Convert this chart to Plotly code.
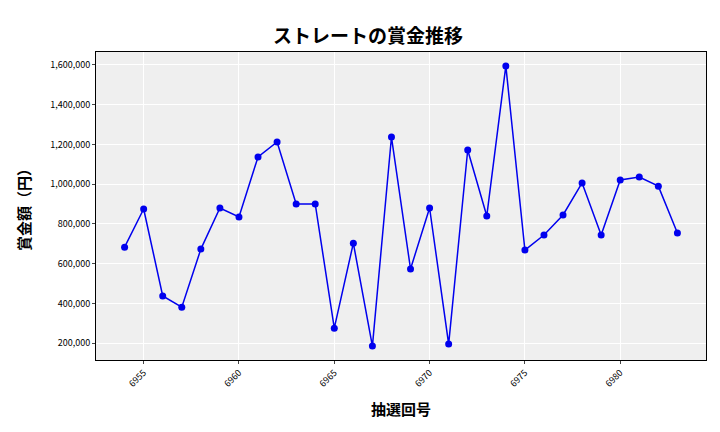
import plotly.graph_objects as go

draws = list(range(6954, 6984))
prizes = [683000, 875000, 437000, 381000, 673000, 880000, 835000, 1137000, 1212000, 900000,
          900000, 275000, 703000, 185000, 1237000, 573000, 880000, 195000, 1172000, 840000,
          1595000, 668000, 744000, 845000, 1006000, 744000, 1021000, 1036000, 990000, 754000]
xticks = [6955, 6960, 6965, 6970, 6975, 6980]

F = "Noto Sans CJK JP"
fig = go.Figure(go.Scatter(x=draws, y=prizes, mode="lines+markers",
                           line=dict(color="#0000ee", width=1.5),
                           marker=dict(color="#0000ee", size=7)))
fig.update_layout(
    width=720, height=432, margin=dict(l=88, r=22, t=44, b=80),
    plot_bgcolor="#efefef", paper_bgcolor="white",
    font=dict(family=F, color="black"),
    title=dict(text="<b>ストレートの賞金推移</b>", x=0.5, xanchor="center", y=0.95, font=dict(size=19)),
    showlegend=False,
)
fig.update_xaxes(tickvals=xticks, ticktext=[str(v) for v in xticks], tickangle=-45,
                 tickfont=dict(size=9), gridcolor="white", range=[6952.5, 6984.5],
                 title=dict(text="<b>抽選回号</b>", font=dict(size=15)), ticks="outside", ticklen=3,
                 showline=True, linecolor="black", mirror=True)
fig.update_yaxes(tickformat=",d", tickfont=dict(size=9), gridcolor="white",
                 range=[115000, 1665000], dtick=200000,
                 title=dict(text="<b>賞金額（円）</b>", font=dict(size=15)), ticks="outside", ticklen=3,
                 showline=True, linecolor="black", mirror=True)
fig.write_html("out.html")
